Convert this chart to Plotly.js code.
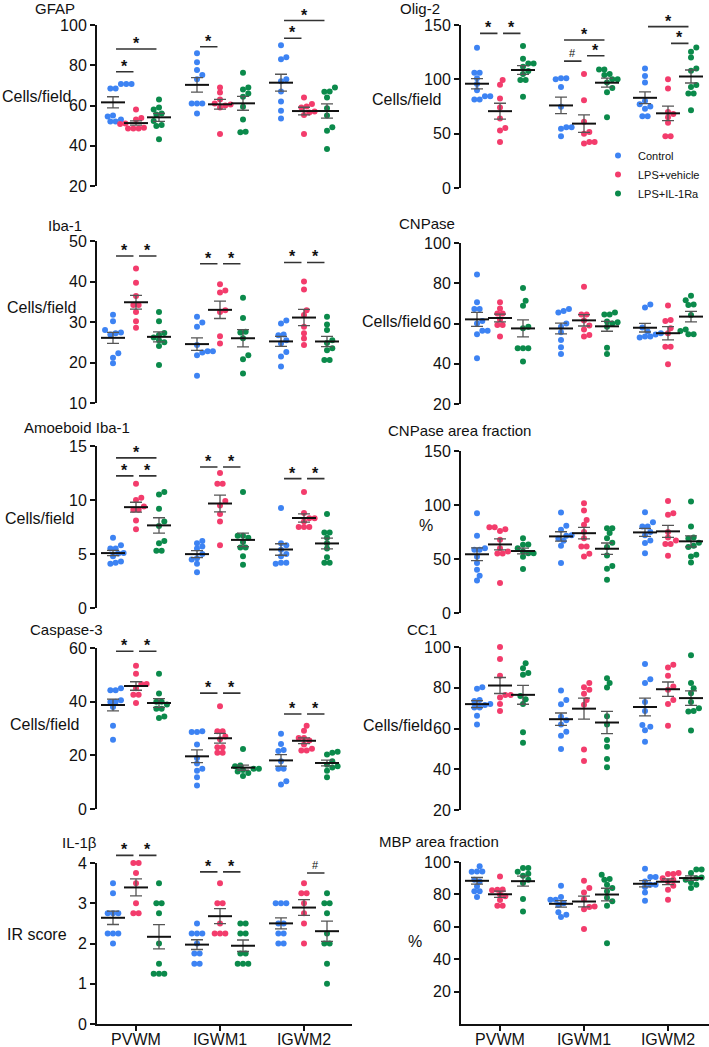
<!DOCTYPE html>
<html>
<head>
<meta charset="utf-8">
<script src="https://cdn.plot.ly/plotly-3.0.1.min.js"></script>
<style>html,body{margin:0;padding:0;background:#fff}</style>
</head>
<body>
<div id="chart" style="width:709px;height:1047px"></div>
<script>
const regions = ['PVWM', 'IGWM1', 'IGWM2'];
const groups = ['Control', 'LPS+vehicle', 'LPS+IL-1Ra'];

// values per region: [PVWM, IGWM1, IGWM2]
const gfapCtrl = [[70.7,70.7,70.7,68.5,68.5,55,54.5,53,52,52],[86,81.5,77.6,75.2,73,61,61,61,56],[90,84,83,73,72,67,62,57.4,53.6]];
const gfapVeh  = [[58,53.8,53,51,50.8,49,48.6,48.6,48.6],[69,66.4,63,61,60.5,60,59,45.8],[64,60.8,59.5,59,57,56.5,55.3,45.8]];
const gfapRa   = [[63,59,58,56,55.5,52.3,50.3,49.8,43.2],[76.3,68.9,68,66,64.4,59.4,53,47,46.7],[69,67,66.8,64,58.6,55,49.2,47.5,38.4]];

const olig2Ctrl = [[129,106,106,101,95.6,90,84.5,84.5,81.5,81.5],[101,101,100,93,74.7,56,56,54.5,47.6],[110,103,97,80,77,75,73,66,66]];
const olig2Veh  = [[99.5,95,82.4,74,64,55.3,53,42.4],[104.8,80.8,61,51.6,50,42.4,42.4,40.9],[100,91.6,70,68,65,60,47.6,47.6]];
const olig2Ra   = [[130.6,119,114.6,114.6,111.6,107.6,105,99.3,99.3,84],[109,109,105,104,100,100,97,92,88,65],[129.4,125.4,120,110,108,94.7,93,87,87,71.6]];

const iba1Ctrl = [[31.8,30.2,28,27.4,27.2,26.9,22.3,21.2,19.8],[31.3,29.9,28.8,24.3,22.8,22.8,22.5,21.8,16.7],[30.4,29.6,26.9,26.7,25.5,24.7,22.6,21.5,19]];
const iba1Veh  = [[43.2,39.7,36.4,34.2,34.2,32.5,30.2,28.6],[39.3,37.8,37.3,32.9,32.5,26.5,24.7],[40,38,32.9,31.7,28.8,27.2,25.9,24.3]];
const iba1Ra   = [[32.5,30.2,27.3,26.8,26.2,25.5,25,24.1,19.4],[36,31,27.6,27.4,26,21.8,20.8,17.3],[31.3,29.4,28,25.5,24.8,23.5,23,20.6,20.6]];

const cnpCtrl = [[84.3,70.5,67.2,67.2,61.2,60,56.4,56.4,54.6,42.7],[67.2,66.2,65.5,60,58.4,55.6,51.8,48.2,44.9],[69.5,68,58,56,55.1,54.5,53.5,53.5,53]];
const cnpVeh  = [[70.5,67.5,65,65,62,59.2,59.2,53.5],[78.2,64.5,64.5,61.5,59,57,54.3,53.5],[69,61.7,61.2,57.6,55.1,48.5,48.5,39.8]];
const cnpRa   = [[77.7,71.3,68.8,58.4,57.6,47.7,47.7,47.7,41.1],[65.5,64.5,64.5,61,60.6,60,58.4,48,44.9],[73.8,71.6,69.5,69.2,64.2,57,56.3,54.6,54.6]];

const amoCtrl = [[6.5,5.8,5.5,5.5,5.1,5.05,4.8,4.3,4.1,4.2],[6.2,6.0,5.7,5.5,5.0,4.6,4.5,4.1,3.3],[9.25,6.0,5.8,5.4,5.0,4.8,4.1,4.2,4.2]];
const amoVeh  = [[11.5,10.2,10.0,9.4,9.1,9.1,8.1,7.3],[12.5,11.5,11.5,9.9,9.5,8.7,8.0,5.8],[10.75,8.8,8.3,8.3,8.0,7.5,7.5,7.5]];
const amoRa   = [[10.75,10.5,9.2,8.0,7.6,6.2,6.0,5.3,5.3],[10.75,6.7,6.7,6.5,6.1,5.6,5.6,4.8,4.0],[8.7,7.0,7.0,6.5,6.0,5.5,4.7,4.2,4.2]];

const cnpAreaCtrl = [[92.4,71.5,60,58.5,58.5,52,46.2,40,34.5,30.2],[93,80.7,77,72,71.5,69,66.8,62.2,46.2],[93.3,84.1,80,80,75,72,67.2,64.7,55.4]];
const cnpAreaVeh  = [[79.5,79.5,77.6,76,67.8,60,57,55,55,27.7],[101.6,94.9,86.2,81.6,75,69.3,61.6,61.6,54.8,52.4],[103.8,92.4,90.9,75,70,67.2,64,64,53]];
const cnpAreaRa   = [[69.3,63.5,63.1,60,57,55.4,55.4,52,40.7],[78.5,78.5,74,69.3,65,61.2,53.3,43.5,41,30.8],[103.2,80,70,69,65,62.2,61,54,52.4,46.8]];

const casCtrl = [[45,44.3,44.3,40.5,40,39.9,38,31,25.8],[29,28.7,28.7,24,19,17,15,14.3,11.8,8.8],[28,24.2,22,21.6,17.8,15,15,10.3,9.1]];
const casVeh  = [[53.4,50.4,46.6,46.6,45,42.6,42.6,39.5],[38.3,29,29,27,26,23,23,21,21],[31,29.2,26.5,26.5,25.5,24,22.5,21.8,21.8]];
const casRa   = [[50.4,43,40,40,38.9,37.4,37.4,34.5,33.9],[22.4,16.2,15.9,15,15,14.5,14,13.4,12.3],[21.3,21,20.3,17.8,16.5,15.9,15.5,14.3,11.8]];

const cc1Ctrl = [[80.3,79.5,74,73.5,72,71.5,70.3,70.3,66.3,62],[78.6,74,71.9,65.8,64,62,58.4,56.5,49.9],[91.6,84.2,82.3,73,68.6,61.7,60.9,59.2,53.5]];
const cc1Veh  = [[100,94.1,85.9,76.5,76.5,75.2,72,68.6],[82.3,80.3,79,77,74,71.6,49.7,44],[91.3,90,85.9,80.6,79,74,72,61.4]];
const cc1Ra   = [[92,89.6,87.2,86.4,76,74.4,72,58.1,53],[84.7,82.3,80.1,66,62,54.3,51,45,41],[95.9,82.3,79.8,77.3,73,70,68.6,68.3,59]];

const il1bCtrl = [[3.5,3.25,2.75,2.75,2.75,2.25,2.25,2.25,2.0],[2.5,2.25,2.25,2.25,2.0,1.75,1.75,1.5,1.5],[3,3,3,2.5,2.5,2.25,2.25,2.0,2.0]];
const il1bVeh  = [[4,4,3.75,3.5,3.0,2.75,2.75],[3.5,3,3,2.5,2.25,2.25,2.25],[3.5,3.25,3.25,3.0,2.75,2.5,2.0]];
const il1bRa   = [[3.5,3,3,2.75,2.0,1.5,1.25,1.25,1.25],[2.5,2.5,2.25,2.25,1.75,1.75,1.5,1.5,1.5],[3.25,3,3,2.75,2.25,2.0,2.0,1.5,1.0]];

const mbpCtrl = [[97.3,94.2,94.2,94,89,88,85,81.9,81.9,78.4],[85.4,78.4,76.7,76.7,74.5,73.6,69,67.4,66],[95.9,90.7,90.7,88,86,86,84.5,81.2,76.1]];
const mbpVeh  = [[91.1,83,82.9,82.5,80,78.8,76.5,73,73],[88.5,83.9,81.2,77,72.6,72.2,70.9,58.6],[93.2,92.6,92.6,90,89,88,85.4,82.9,76.7]];
const mbpRa   = [[96.3,96.3,94,92.8,91.5,89,87,77.1,69.5],[92.2,89.5,89,86,84,81.9,78,75.7,73,49.9],[95.3,95.3,93.2,90.5,90,89,87.5,86,83.9]];

// significance: [region, groupA, groupB, level, mark]
const gfapSig = [[0,0,1,76.8,'*'],[0,0,2,88.1,'*'],[1,0,1,89.2,'*'],[2,0,1,93.4,'*'],[2,0,2,102.2,'*']];
const olig2Sig = [[0,0,1,142.3,'*'],[0,1,2,142.3,'*'],[1,0,1,116.8,'#'],[1,1,2,121.7,'*'],[1,0,2,136.2,'*'],[2,1,2,133.1,'*'],[2,0,2,148.5,'*']];
const iba1Sig = [[0,0,1,46.3,'*'],[0,1,2,46.3,'*'],[1,0,1,44.4,'*'],[1,1,2,44.4,'*'],[2,0,1,44.7,'*'],[2,1,2,44.7,'*']];
const amoSig = [[0,0,2,13.9,'*'],[0,0,1,12.23,'*'],[0,1,2,12.23,'*'],[1,0,1,13.06,'*'],[1,1,2,13.06,'*'],[2,0,1,11.98,'*'],[2,1,2,11.98,'*']];
const casSig = [[0,0,1,58.8,'*'],[0,1,2,58.8,'*'],[1,0,1,43.2,'*'],[1,1,2,43.2,'*'],[2,0,1,35.4,'*'],[2,1,2,35.4,'*']];
const il1bSig = [[0,0,1,4.19,'*'],[0,1,2,4.19,'*'],[1,0,1,3.78,'*'],[1,1,2,3.78,'*'],[2,1,2,3.75,'#']];

const W = 709, H = 1047;
const COLORS = ['#3d83f3', '#f33c6c', '#0b8a4b'];
const FONT = 'Liberation Sans, Arial, sans-serif';
// column geometry in px: axis position, right end, first region centre, px per region
const COLS = [
  {left: 97, right: 352, c0: 136, step: 84},
  {left: 461, right: 709, c0: 500, step: 84}
];
const GROUP_PX = 23, DOT = 6, SWARM_STEP = 5.3, MEAN_HALF = 12;

const panels = [
  {title: 'GFAP', ytitle: 'Cells/field', d: [gfapCtrl, gfapVeh, gfapRa], sig: gfapSig, range: [20,100], tv: [20,40,60,80,100], col: 0, top: 25, bot: 186, tpos: [33, 9], ypos: [0, 97]},
  {title: 'Olig-2', ytitle: 'Cells/field', d: [olig2Ctrl, olig2Veh, olig2Ra], sig: olig2Sig, range: [0,150], tv: [0,50,100,150], col: 1, top: 25, bot: 188, tpos: [398, 9], ypos: [370, 99]},
  {title: 'Iba-1', ytitle: 'Cells/field', d: [iba1Ctrl, iba1Veh, iba1Ra], sig: iba1Sig, range: [10,50], tv: [10,20,30,40,50], col: 0, top: 241, bot: 403, tpos: [46, 226], ypos: [5, 307]},
  {title: 'CNPase', ytitle: 'Cells/field', d: [cnpCtrl, cnpVeh, cnpRa], sig: [], range: [20,100], tv: [20,40,60,80,100], col: 1, top: 243, bot: 404, tpos: [397, 224], ypos: [360, 321]},
  {title: 'Amoeboid Iba-1', ytitle: 'Cells/field', d: [amoCtrl, amoVeh, amoRa], sig: amoSig, range: [0,15], tv: [0,5,10,15], col: 0, top: 446, bot: 608, tpos: [22, 428], ypos: [3, 518]},
  {title: 'CNPase area fraction', ytitle: '%', d: [cnpAreaCtrl, cnpAreaVeh, cnpAreaRa], sig: [], range: [0,150], tv: [0,50,100,150], col: 1, top: 451, bot: 613, tpos: [386, 431], ypos: [417, 525]},
  {title: 'Caspase-3', ytitle: 'Cells/field', d: [casCtrl, casVeh, casRa], sig: casSig, range: [0,60], tv: [0,20,40,60], col: 0, top: 648, bot: 809, tpos: [28, 629], ypos: [8, 724]},
  {title: 'CC1', ytitle: 'Cells/field', d: [cc1Ctrl, cc1Veh, cc1Ra], sig: [], range: [20,100], tv: [20,40,60,80,100], col: 1, top: 647, bot: 810, tpos: [405, 629], ypos: [361, 725]},
  {title: 'IL-1β', ytitle: 'IR score', d: [il1bCtrl, il1bVeh, il1bRa], sig: il1bSig, range: [0,4], tv: [0,1,2,3,4], col: 0, top: 863, bot: 1024, tpos: [60, 843], ypos: [5, 934], bottom: true},
  {title: 'MBP area fraction', ytitle: '%', d: [mbpCtrl, mbpVeh, mbpRa], sig: [], range: [0,100], tv: [20,40,60,80,100], col: 1, top: 862, bot: 1024, tpos: [377, 841], ypos: [406, 941], bottom: true}
];

// horizontal offsets (px) so dots do not overlap, like a GraphPad scatter
function swarm(vals, pxPerUnit) {
  const order = vals.map((v, i) => i).sort((a, b) => vals[a] - vals[b]);
  const placed = [];
  const off = new Array(vals.length).fill(0);
  let i = 0;
  while (i < order.length) {
    const y0 = vals[order[i]] * pxPerUnit;
    const row = [order[i]];
    let j = i + 1;
    while (j < order.length && vals[order[j]] * pxPerUnit - y0 < 1.6) { row.push(order[j]); j++; }
    const k = row.length;
    const base = row.map((_, r) => (r - (k - 1) / 2) * SWARM_STEP);
    let shift = 0;
    for (let s = 0; s <= 12; s++) {
      const cand = (s % 2 ? 1 : -1) * Math.ceil(s / 2) * SWARM_STEP / 2;
      const ok = row.every((p, r) => placed.every(q =>
        Math.hypot(base[r] + cand - q.x, vals[p] * pxPerUnit - q.y) >= DOT - 0.8));
      if (ok) { shift = cand; break; }
    }
    row.forEach((p, r) => {
      off[p] = base[r] + shift;
      placed.push({x: off[p], y: vals[p] * pxPerUnit});
    });
    i = j;
  }
  return off;
}

const mean = a => a.reduce((s, v) => s + v, 0) / a.length;
const sem = a => {
  const m = mean(a);
  const sd = Math.sqrt(a.reduce((s, v) => s + (v - m) ** 2, 0) / (a.length - 1));
  return sd / Math.sqrt(a.length);
};

const traces = [];
const annotations = [];
const layout = {
  width: W, height: H,
  margin: {l: 0, r: 0, t: 0, b: 0},
  paper_bgcolor: '#fff', plot_bgcolor: 'rgba(0,0,0,0)',
  font: {family: FONT, color: '#111', size: 16},
  showlegend: true,
  legend: {x: 598 / W, y: 1 - 141 / H, xanchor: 'left', yanchor: 'top', bgcolor: 'rgba(0,0,0,0)',
           font: {size: 11, family: FONT, color: '#111'}, tracegroupgap: 0},
  annotations: annotations
};

panels.forEach((p, k) => {
  const n = k + 1;
  const xa = 'x' + (n === 1 ? '' : n), ya = 'y' + (n === 1 ? '' : n);
  const col = COLS[p.col];
  const xr = [(col.left - col.c0) / col.step, (col.right - col.c0) / col.step];
  const pxY = (p.bot - p.top) / (p.range[1] - p.range[0]);
  const gOff = GROUP_PX / col.step;
  const xOf = (r, g) => r + (g - 1) * gOff;

  layout['xaxis' + (n === 1 ? '' : n)] = {
    domain: [col.left / W, col.right / W], range: xr, anchor: ya, fixedrange: true,
    visible: !!p.bottom, showgrid: false, zeroline: false,
    showline: true, linecolor: '#111', linewidth: 2,
    ticks: 'outside', ticklen: 5, tickwidth: 1.5, tickcolor: '#111', ticklabelstandoff: -5,
    tickvals: [0, 1, 2], ticktext: regions, tickfont: {size: 16, family: FONT, color: '#111'}
  };
  layout['yaxis' + (n === 1 ? '' : n)] = {
    domain: [1 - p.bot / H, 1 - p.top / H], range: p.range, anchor: xa, fixedrange: true,
    showgrid: false, zeroline: false, showline: true, linecolor: '#111', linewidth: 2,
    ticks: 'outside', ticklen: 5, tickwidth: 2, tickcolor: '#111',
    tickvals: p.tv, tickfont: {size: 16, family: FONT, color: '#111'}
  };

  // dots
  p.d.forEach((series, g) => {
    const xs = [], ys = [];
    series.forEach((vals, r) => {
      const off = swarm(vals, pxY);
      vals.forEach((v, i) => { xs.push(xOf(r, g) + off[i] / col.step); ys.push(v); });
    });
    traces.push({
      type: 'scatter', mode: 'markers', x: xs, y: ys, xaxis: xa, yaxis: ya,
      name: groups[g], legendgroup: groups[g], showlegend: n === 1,
      marker: {color: COLORS[g], size: DOT, line: {width: 0}},
      cliponaxis: false, hoverinfo: 'y'
    });
  });

  // mean and SEM
  const ex = [], ey = [], ee = [], mx = [], my = [];
  p.d.forEach((series, g) => series.forEach((vals, r) => {
    const m = mean(vals);
    ex.push(xOf(r, g)); ey.push(m); ee.push(sem(vals));
    mx.push(xOf(r, g) - MEAN_HALF / col.step, xOf(r, g) + MEAN_HALF / col.step, null);
    my.push(m, m, null);
  }));
  traces.push({
    type: 'scatter', mode: 'markers', x: ex, y: ey, xaxis: xa, yaxis: ya, showlegend: false,
    marker: {size: 1, color: 'rgba(0,0,0,0)'}, hoverinfo: 'skip', cliponaxis: false,
    error_y: {type: 'data', array: ee, visible: true, color: '#555', thickness: 1.3, width: 6}
  });
  traces.push({
    type: 'scatter', mode: 'lines', x: mx, y: my, xaxis: xa, yaxis: ya, showlegend: false,
    line: {color: '#111', width: 2}, hoverinfo: 'skip'
  });

  // significance bars; placed on the y domain so bars above the top tick stay visible
  const span = p.range[1] - p.range[0];
  p.sig.forEach(([r, a, b, lvl, mark]) => {
    const x0 = xOf(r, a) + 0.03, x1 = xOf(r, b) - 0.03;
    const yd = (lvl - p.range[0]) / span;
    annotations.push({
      xref: xa, yref: ya + ' domain', axref: xa, ayref: 'pixel', x: x1, y: yd, ax: x0, ay: 0,
      showarrow: true, arrowhead: 0, arrowwidth: 1.6, arrowcolor: '#333',
      standoff: 0, startstandoff: 0, text: '', font: {size: 1}, borderpad: 0
    });
    annotations.push({
      xref: xa, yref: ya + ' domain', x: (x0 + x1) / 2, y: yd, showarrow: false,
      text: mark === '*' ? '<b>*</b>' : '#', xanchor: 'center', yanchor: 'bottom',
      yshift: mark === '*' ? -5 : 0,
      font: {size: mark === '*' ? 16 : 11, family: FONT, color: '#111'}
    });
  });

  // titles
  annotations.push({xref: 'paper', yref: 'paper', x: p.tpos[0] / W, y: 1 - p.tpos[1] / H,
    xanchor: 'left', yanchor: 'middle', showarrow: false, text: p.title,
    font: {size: 15, family: FONT, color: '#111'}});
  annotations.push({xref: 'paper', yref: 'paper', x: p.ypos[0] / W, y: 1 - p.ypos[1] / H,
    xanchor: 'left', yanchor: 'middle', showarrow: false, text: p.ytitle,
    font: {size: 16, family: FONT, color: '#111'}});
});

Plotly.newPlot('chart', traces, layout, {displayModeBar: false, staticPlot: true});
</script>
</body>
</html>
